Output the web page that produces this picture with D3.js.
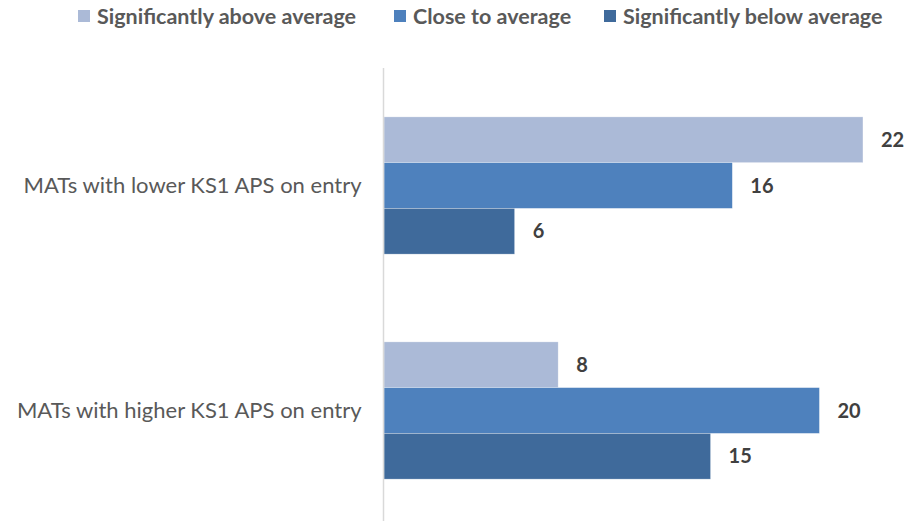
<!DOCTYPE html>
<html><head><meta charset="utf-8">
<script src="https://cdn.jsdelivr.net/npm/d3@7"></script>
<style>body{margin:0;background:#fff}svg{display:block}</style>
</head><body>
<script>
const categories = ["MATs with lower KS1 APS on entry", "MATs with higher KS1 APS on entry"];
const seriesNames = ["Significantly above average", "Close to average", "Significantly below average"];
const aboveValues = [22, 8];
const closeValues = [16, 20];
const belowValues = [6, 15];
const colors = ["#ABBAD7", "#4E81BD", "#3F6A9B"];

const W = 924, H = 521;
const svg = d3.select("body").append("svg").attr("width", W).attr("height", H);
const font = "Lato, 'Open Sans', sans-serif";

const seriesValues = [aboveValues, closeValues, belowValues];
const data = categories.map((c, i) => ({cat: c, vals: seriesNames.map((s, j) => ({s, j, v: seriesValues[j][i]}))}));

const x = d3.scaleLinear().domain([0, 24]).range([384, 906.5]);
const y0 = d3.scaleBand().domain(categories).range([73, 523]).paddingInner(0.39).paddingOuter(0.195);
const y1 = d3.scaleBand().domain(seriesNames).range([0, y0.bandwidth()]);

const g = svg.selectAll("g.grp").data(data).join("g").attr("class", "grp")
  .attr("transform", d => `translate(0,${y0(d.cat)})`);
g.selectAll("rect").data(d => d.vals).join("rect")
  .attr("x", x(0)).attr("y", d => y1(d.s))
  .attr("width", d => x(d.v) - x(0)).attr("height", y1.bandwidth())
  .attr("fill", d => colors[d.j])
  .attr("stroke", "#fff").attr("stroke-opacity", 0.5).attr("stroke-width", 0.6);
g.selectAll("text").data(d => d.vals).join("text")
  .attr("x", d => x(d.v) + 18).attr("y", d => y1(d.s) + y1.bandwidth() / 2)
  .attr("dy", "0.35em").attr("fill", "#404040")
  .style("font", `bold 20px ${font}`).text(d => d.v);

// axis line
svg.append("line").attr("x1", 383.5).attr("x2", 383.5).attr("y1", 68).attr("y2", 521)
  .attr("stroke", "#d9d9d9").attr("stroke-width", 1.5);

// category labels
const yAxis = d3.axisLeft(y0).tickSize(0).tickPadding(22);
const ya = svg.append("g").attr("transform", "translate(383.5,0)").call(yAxis);
ya.select(".domain").remove();
ya.selectAll("text").attr("fill", "#595959").style("font", `22px ${font}`);

// legend
const legX = [78, 394, 604];
const leg = svg.selectAll("g.leg").data(seriesNames).join("g").attr("class", "leg")
  .attr("transform", (d, i) => `translate(${legX[i]},16)`);
leg.append("rect").attr("x", 0).attr("y", -6).attr("width", 12).attr("height", 12)
  .attr("fill", (d, i) => colors[i]);
leg.append("text").attr("x", 19).attr("dy", "0.35em").attr("fill", "#595959")
  .style("font", `bold 21.5px ${font}`).text(d => d);
</script>
</body></html>
